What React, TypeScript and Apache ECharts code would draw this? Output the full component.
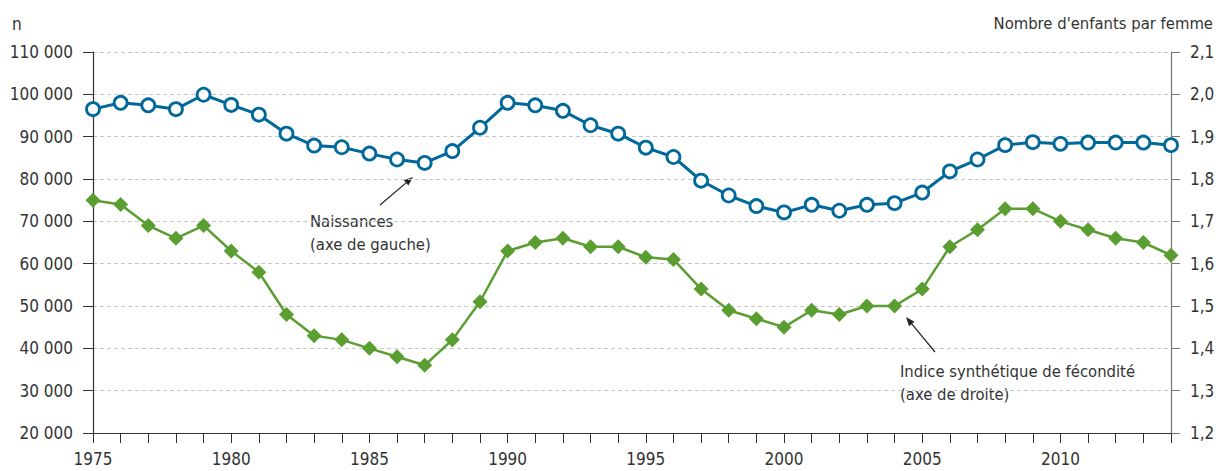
import React, { useEffect, useRef } from "react";
import * as echarts from "echarts";

const years: string[] = [];
for (let y = 1975; y <= 2014; y++) years.push(String(y));

const naissances = [
  96500, 98000, 97400, 96500, 99900, 97500, 95200, 90700, 87900, 87500,
  86000, 84600, 83800, 86600, 92100, 98000, 97400, 96100, 92700, 90700,
  87400, 85200, 79600, 76100, 73600, 72100, 73900, 72500, 73900, 74300,
  76800, 81800, 84600, 88000, 88700, 88300, 88600, 88600, 88600, 88000,
];

const isf = [
  1.75, 1.74, 1.69, 1.66, 1.69, 1.63, 1.58, 1.48, 1.43, 1.42,
  1.40, 1.38, 1.36, 1.42, 1.51, 1.63, 1.65, 1.66, 1.64, 1.64,
  1.615, 1.61, 1.54, 1.49, 1.47, 1.45, 1.49, 1.48, 1.50, 1.50,
  1.54, 1.64, 1.68, 1.73, 1.73, 1.70, 1.68, 1.66, 1.65, 1.62,
];

const FONT = "'Liberation Sans Narrow', 'DejaVu Sans Condensed', 'Roboto Condensed', sans-serif";
const TXT = "#333333";
const BLUE = "#00689a";
const GREEN = "#5a9e32";
const TICK_FS = 17;
const ANN_FS = 16.5;

function arrowHead(tip: [number, number], from: [number, number], len = 9, half = 3.5) {
  const dx = tip[0] - from[0];
  const dy = tip[1] - from[1];
  const l = Math.hypot(dx, dy);
  const ux = dx / l, uy = dy / l;
  const bx = tip[0] - ux * len, by = tip[1] - uy * len;
  const px = -uy * half, py = ux * half;
  return [tip, [bx + px, by + py], [bx - px, by - py]];
}

export default function App() {
  const ref = useRef<HTMLDivElement>(null);
  useEffect(() => {
    if (!ref.current) return;
    const chart = echarts.init(ref.current, undefined, { renderer: "svg" });
    const a1from: [number, number] = [380, 205];
    const a1to: [number, number] = [413, 177];
    const a2from: [number, number] = [935, 352];
    const a2to: [number, number] = [906, 317];
    chart.setOption({
      animation: false,
      backgroundColor: "#ffffff",
      textStyle: { fontFamily: FONT },
      grid: { left: 93, right: 57, top: 52, bottom: 38, containLabel: false },
      xAxis: {
        type: "category",
        data: years,
        boundaryGap: false,
        axisLine: { lineStyle: { color: "#333", width: 1.2 } },
        axisTick: { interval: 0, length: 10, lineStyle: { color: "#333" } },
        axisLabel: {
          interval: 4,
          margin: 17,
          color: TXT,
          fontSize: TICK_FS,
          fontFamily: FONT,
        },
        splitLine: { show: false },
      },
      yAxis: [
        {
          type: "value",
          min: 20000,
          max: 110000,
          interval: 10000,
          position: "left",
          axisLine: { show: true, lineStyle: { color: "#333", width: 1.2 } },
          axisTick: { show: true, length: 10, lineStyle: { color: "#333" } },
          axisLabel: {
            margin: 20,
            color: TXT,
            fontSize: TICK_FS,
            fontFamily: FONT,
            formatter: (v: number) => {
              const s = String(Math.round(v));
              return s.slice(0, s.length - 3) + "\u00a0" + s.slice(-3);
            },
          },
          splitLine: {
            show: true,
            lineStyle: { color: "#c8c8c8", type: [4, 3], width: 1 },
          },
        },
        {
          type: "value",
          min: 1.2,
          max: 2.1,
          interval: 0.1,
          position: "right",
          axisLine: { show: true, lineStyle: { color: "#777", width: 1.2 } },
          axisTick: { show: true, length: 9, lineStyle: { color: "#777" } },
          axisLabel: {
            margin: 19,
            color: TXT,
            fontSize: TICK_FS,
            fontFamily: FONT,
            formatter: (v: number) => v.toFixed(1).replace(".", ","),
          },
          splitLine: { show: false },
        },
      ],
      series: [
        {
          name: "Naissances",
          type: "line",
          yAxisIndex: 0,
          data: naissances,
          symbol: "circle",
          symbolSize: 13,
          showAllSymbol: true,
          lineStyle: { color: BLUE, width: 3 },
          itemStyle: { color: "#ffffff", borderColor: BLUE, borderWidth: 2.8 },
          z: 3,
        },
        {
          name: "ISF",
          type: "line",
          yAxisIndex: 1,
          data: isf,
          symbol: "diamond",
          symbolSize: 15,
          showAllSymbol: true,
          lineStyle: { color: GREEN, width: 2.5 },
          itemStyle: { color: GREEN },
          z: 2,
        },
      ],
      graphic: [
        {
          type: "text",
          left: 12,
          top: 15,
          style: { text: "n", fill: TXT, fontSize: TICK_FS, fontFamily: FONT },
        },
        {
          type: "text",
          right: 15,
          top: 15,
          style: { text: "Nombre d'enfants par femme", fill: TXT, fontSize: ANN_FS, fontFamily: FONT },
        },
        {
          type: "text",
          x: 310,
          y: 210,
          style: { text: "Naissances\n(axe de gauche)", fill: TXT, fontSize: ANN_FS, lineHeight: 23, fontFamily: FONT },
        },
        {
          type: "text",
          x: 900,
          y: 360,
          style: {
            text: "Indice synthétique de fécondité\n(axe de droite)",
            fill: TXT,
            fontSize: ANN_FS,
            lineHeight: 23,
            fontFamily: FONT,
          },
        },
        {
          type: "line",
          shape: { x1: a1from[0], y1: a1from[1], x2: a1to[0] - 4, y2: a1to[1] + 3.4 },
          style: { stroke: "#222", lineWidth: 1.2 },
        },
        {
          type: "polygon",
          shape: { points: arrowHead(a1to, a1from) },
          style: { fill: "#222" },
        },
        {
          type: "line",
          shape: { x1: a2from[0], y1: a2from[1], x2: a2to[0] + 3.5, y2: a2to[1] + 4.2 },
          style: { stroke: "#222", lineWidth: 1.2 },
        },
        {
          type: "polygon",
          shape: { points: arrowHead(a2to, a2from) },
          style: { fill: "#222" },
        },
      ],
    });
    return () => chart.dispose();
  }, []);
  return (
    <div
      ref={ref}
      style={{ position: "absolute", left: 0, top: 0, width: 1228, height: 471 }}
    />
  );
}
